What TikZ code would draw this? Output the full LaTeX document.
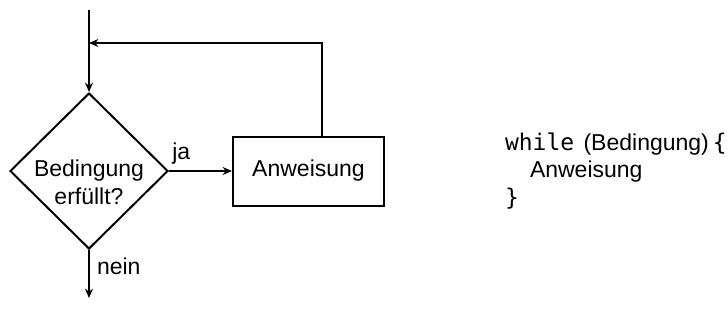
\documentclass[tikz,border=0pt]{standalone}
\usepackage{fontspec}
\setmainfont{Liberation Sans}
\setmonofont{DejaVu Sans Mono}
\usetikzlibrary{arrows.meta,positioning,shapes.geometric}
\tikzstyle{decision} = [draw,diamond,line width=1.5pt,aspect=1,inner sep=-4pt,minimum width=118.5pt,minimum height=117pt,align=center,text height=49.5pt,text depth=0pt]
\tikzstyle{block}    = [draw,rectangle,line width=1.5pt,minimum width=113.25pt,minimum height=51.75pt]
\tikzstyle{code}     = [inner sep=0pt,align=left]
\tikzstyle{lbl}      = [inner sep=0pt,anchor=base west]

\begin{document}
\begin{tikzpicture}[->,>={Stealth[length=7pt,width=6pt]},line width=1pt,
                    every node/.style={font=\fontsize{17.25}{20.5}\selectfont}]
\useasboundingbox (0,0) rectangle (546pt,-241.5pt);

\coordinate (start) at (66.75pt,-7.5pt);
\coordinate[below=24.75pt of start] (join);
\node[decision] (cond) [below=61.5pt of start] {Bedingung\\erfüllt?};
\node[block]    (act)  [right=47.25pt of cond] {Anweisung};
\node[code]     (loop) [right=89.5pt of act]   {\texttt{while}\hspace{7pt}(Bedingung)\hspace{3pt}\texttt{\{}\\\hspace*{18.75pt}Anweisung\\\texttt{\}}};
\coordinate[below=36pt of cond] (stop);

\draw (start) -- (cond);
\draw ([xshift=10pt]act.north) |- (join);
\path
    (cond) edge node[lbl,pos=0,xshift=2pt,yshift=9pt]    {ja}   (act)
    (cond) edge node[lbl,pos=0,xshift=5.5pt,yshift=-18pt] {nein} (stop);
\end{tikzpicture}
\end{document}
